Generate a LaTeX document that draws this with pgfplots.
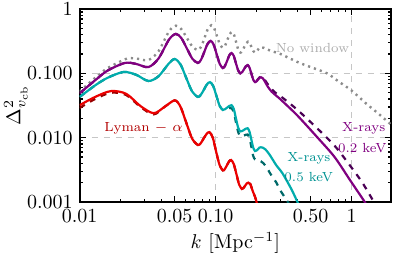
\documentclass[border=0pt]{standalone}
\usepackage{pgfplots}
\pgfplotsset{compat=1.18}
\definecolor{cred}{RGB}{235,0,0}
\definecolor{cdred}{RGB}{150,0,0}
\definecolor{cteal}{RGB}{0,172,172}
\definecolor{cdteal}{RGB}{0,105,105}
\definecolor{cpur}{RGB}{128,0,128}
\definecolor{cdpur}{RGB}{75,0,85}
\definecolor{cgray}{RGB}{140,140,140}
\begin{document}
\begin{tikzpicture}
\useasboundingbox (-39.85pt,-29.5pt) rectangle (159.65pt,101pt);
\begin{axis}[
  at={(0,0)}, anchor=south west,
  scale only axis, width=155.65pt, height=96.5pt,
  xmode=log, ymode=log,
  xmin=0.01, xmax=1.95, ymin=0.001, ymax=1,
  axis line style={line width=1pt},
  every tick/.style={black, line width=0.7pt},
  major tick length=3pt, minor tick length=1.6pt,
  tick align=inside, xtick pos=both, ytick pos=both,
  xtick={0.01,0.1,1}, xticklabels={0.01,0.10,1},
  extra x ticks={0.05,0.5}, extra x tick labels={0.05,0.50},
  extra x tick style={grid=none},
  minor xtick={0.02,0.03,0.04,0.06,0.07,0.08,0.09,0.2,0.3,0.4,0.6,0.7,0.8,0.9},
  ytick={0.001,0.01,0.1,1}, yticklabels={0.001,0.010,0.100,1},
  minor ytick={0.002,0.003,0.004,0.005,0.006,0.007,0.008,0.009,0.02,0.03,0.04,0.05,0.06,0.07,0.08,0.09,0.2,0.3,0.4,0.5,0.6,0.7,0.8,0.9},
  xmajorgrids, ymajorgrids,
  major grid style={dashed, gray!45, line width=0.4pt},
  xlabel={$k$ [Mpc$^{-1}$]},
  ylabel={$\Delta^2_{v_{\rm cb}}$},
  xlabel style={yshift=2pt},
  ylabel style={at={(axis description cs:-0.205,0.5)}, anchor=center},
  every axis plot/.append style={line width=1.1pt, smooth, tension=0.5},
]
% No window
\addplot[cgray, dotted, line width=1.2pt] coordinates {
(0.01,0.052)(0.013,0.085)(0.016,0.12)(0.0215,0.165)(0.024,0.172)(0.028,0.166)(0.032,0.16)(0.038,0.22)(0.0454,0.45)(0.051,0.55)
(0.056,0.484)(0.0614,0.356)(0.0674,0.261)(0.074,0.23)(0.0784,0.262)(0.083,0.359)(0.0878,0.492)(0.093,0.56)
(0.0977,0.498)(0.1025,0.374)(0.1076,0.281)(0.113,0.25)(0.1175,0.271)(0.1221,0.332)(0.127,0.405)(0.132,0.44)
(0.1367,0.395)(0.1416,0.304)(0.1467,0.234)(0.152,0.21)(0.157,0.222)(0.1622,0.255)(0.1675,0.293)(0.173,0.31)
(0.1783,0.293)(0.1837,0.255)(0.1893,0.222)(0.195,0.21)(0.1996,0.216)(0.2043,0.231)(0.209,0.248)(0.214,0.255)
(0.225,0.25)(0.24,0.235)(0.27,0.215)(0.3,0.2)(0.4,0.15)(0.5,0.125)(0.66,0.1)(0.8,0.075)(1.0,0.054)(1.3,0.033)(1.6,0.023)(1.95,0.016)};
% X-rays 0.2 keV dashed
\addplot[cdpur, dashed] coordinates {
(0.01,0.049)(0.013,0.078)(0.016,0.11)(0.0215,0.145)(0.026,0.14)(0.032,0.125)(0.038,0.17)(0.0454,0.335)(0.051,0.41)
(0.056,0.352)(0.0614,0.244)(0.0674,0.169)(0.074,0.145)(0.0781,0.163)(0.0825,0.215)(0.0871,0.285)(0.092,0.32)
(0.0968,0.278)(0.1019,0.197)(0.1073,0.1395)(0.113,0.121)(0.1172,0.131)(0.1217,0.158)(0.1262,0.191)(0.131,0.207)
(0.136,0.186)(0.141,0.144)(0.1465,0.111)(0.152,0.10)(0.1568,0.1044)(0.1617,0.1158)(0.1667,0.1284)(0.172,0.134)
(0.1775,0.1226)(0.1832,0.0989)(0.189,0.0805)(0.195,0.075)(0.1998,0.076)(0.2048,0.081)(0.2098,0.086)(0.215,0.089)
(0.222,0.086)(0.232,0.077)(0.245,0.065)(0.26,0.056)(0.272,0.051)(0.314,0.041)(0.4,0.027)(0.558,0.014)(0.75,0.0075)(0.973,0.0037)(1.2,0.002)(1.46,0.001)(1.55,0.0008)};
% X-rays 0.2 keV solid
\addplot[cpur] coordinates {
(0.01,0.049)(0.013,0.078)(0.016,0.11)(0.0215,0.145)(0.026,0.14)(0.032,0.125)(0.038,0.17)(0.0454,0.335)(0.051,0.41)
(0.056,0.352)(0.0614,0.244)(0.0674,0.169)(0.074,0.145)(0.0781,0.163)(0.0825,0.215)(0.0871,0.285)(0.092,0.32)
(0.0968,0.278)(0.1019,0.197)(0.1073,0.1395)(0.113,0.121)(0.1172,0.131)(0.1217,0.158)(0.1262,0.191)(0.131,0.207)
(0.136,0.186)(0.141,0.144)(0.1465,0.111)(0.152,0.10)(0.1568,0.1044)(0.1617,0.1158)(0.1667,0.1284)(0.172,0.134)
(0.1775,0.1226)(0.1832,0.0989)(0.189,0.0798)(0.195,0.073)(0.1998,0.0749)(0.2048,0.0797)(0.2098,0.0848)(0.215,0.087)
(0.222,0.084)(0.23,0.075)(0.242,0.062)(0.258,0.052)(0.272,0.047)(0.29,0.042)(0.314,0.036)(0.4,0.022)(0.558,0.0102)(0.75,0.005)(0.973,0.0022)(1.25,0.001)(1.32,0.0008)};
% X-rays 0.5 keV dashed
\addplot[cdteal, dashed] coordinates {
(0.01,0.043)(0.013,0.065)(0.016,0.085)(0.021,0.105)(0.026,0.095)(0.032,0.076)(0.038,0.09)(0.045,0.14)(0.050,0.167)
(0.0552,0.137)(0.0608,0.0847)(0.0671,0.0524)(0.074,0.043)(0.0779,0.0465)(0.0821,0.056)(0.0864,0.0676)(0.091,0.073)
(0.0961,0.0631)(0.1014,0.0444)(0.1071,0.0312)(0.113,0.027)(0.1172,0.0277)(0.1217,0.0288)(0.1262,0.029)(0.131,0.0285)
(0.136,0.025)(0.141,0.0175)(0.1465,0.0122)(0.152,0.0105)(0.1568,0.0106)(0.1617,0.0108)(0.1667,0.0111)(0.172,0.0112)
(0.1775,0.0098)(0.1832,0.0072)(0.189,0.0052)(0.195,0.0046)(0.2048,0.0045)(0.215,0.0043)(0.225,0.004)(0.24,0.0033)(0.26,0.0025)(0.28,0.002)(0.3,0.0015)(0.34,0.001)(0.36,0.0008)};
% X-rays 0.5 keV solid
\addplot[cteal] coordinates {
(0.01,0.043)(0.013,0.065)(0.016,0.085)(0.021,0.105)(0.026,0.095)(0.032,0.076)(0.038,0.09)(0.045,0.14)(0.050,0.167)
(0.0552,0.137)(0.0608,0.0847)(0.0671,0.0524)(0.074,0.043)(0.0779,0.0465)(0.0821,0.056)(0.0864,0.0676)(0.091,0.073)
(0.0961,0.0631)(0.1014,0.0444)(0.1071,0.0312)(0.113,0.027)(0.1172,0.0277)(0.1217,0.0294)(0.1262,0.0312)(0.131,0.032)
(0.136,0.0279)(0.141,0.02)(0.1465,0.0143)(0.152,0.0125)(0.1568,0.0127)(0.1617,0.0132)(0.1667,0.0138)(0.172,0.014)
(0.1775,0.0124)(0.1832,0.0093)(0.189,0.007)(0.195,0.0062)(0.1998,0.0063)(0.2048,0.0066)(0.2098,0.007)(0.215,0.0071)
(0.222,0.007)(0.232,0.0066)(0.25,0.0054)(0.28,0.0037)(0.31,0.0028)(0.36,0.0016)(0.40,0.001)(0.42,0.0008)};
% Lyman alpha dashed
\addplot[cdred, dashed] coordinates {
(0.01,0.029)(0.013,0.040)(0.017,0.050)(0.022,0.046)(0.028,0.030)(0.035,0.023)(0.042,0.030)(0.050,0.038)
(0.0552,0.0301)(0.0608,0.0171)(0.0671,0.0097)(0.074,0.0077)(0.0777,0.0082)(0.0816,0.0097)(0.0857,0.0114)(0.09,0.0122)
(0.0953,0.0100)(0.1008,0.0061)(0.1067,0.0038)(0.113,0.0031)(0.117,0.00327)(0.1212,0.00374)(0.1255,0.00426)(0.13,0.0045)
(0.136,0.00387)(0.1424,0.00268)(0.149,0.00186)(0.156,0.0016)(0.1603,0.00165)(0.1648,0.00179)(0.1693,0.00194)(0.174,0.002)
(0.18,0.0019)(0.187,0.0015)(0.195,0.0012)(0.20,0.001)(0.205,0.0008)};
% Lyman alpha solid
\addplot[cred] coordinates {
(0.01,0.032)(0.013,0.043)(0.017,0.053)(0.022,0.048)(0.028,0.031)(0.035,0.024)(0.042,0.030)(0.050,0.038)
(0.0552,0.0301)(0.0608,0.0171)(0.0671,0.0097)(0.074,0.0077)(0.0777,0.0082)(0.0816,0.0097)(0.0857,0.0114)(0.09,0.0122)
(0.0953,0.0100)(0.1008,0.0061)(0.1067,0.0038)(0.113,0.0031)(0.117,0.00327)(0.1212,0.00374)(0.1255,0.00426)(0.13,0.0045)
(0.136,0.00387)(0.1424,0.00268)(0.149,0.00186)(0.156,0.0016)(0.1603,0.00165)(0.1648,0.00179)(0.1693,0.00194)(0.174,0.002)
(0.18,0.0019)(0.187,0.0015)(0.195,0.0012)(0.20,0.001)(0.205,0.0008)};
\node[text=red!70!black, font=\fontsize{6.6}{8}\selectfont] at (axis cs:0.0295,0.014) {Lyman $-\ \alpha$};
\node[text=gray!65, font=\fontsize{6.6}{8}\selectfont] at (axis cs:0.515,0.247) {No window};
\node[text=cpur, font=\fontsize{6.6}{8}\selectfont] at (axis cs:1.23,0.014) {X-rays};
\node[text=cpur, font=\fontsize{6.6}{8}\selectfont] at (axis cs:1.2,0.0068) {0.2 keV};
\node[text=cteal!85!black, font=\fontsize{6.6}{8}\selectfont] at (axis cs:0.485,0.00476) {X-rays};
\node[text=cteal!85!black, font=\fontsize{6.6}{8}\selectfont] at (axis cs:0.484,0.00247) {0.5 keV};
\end{axis}
\end{tikzpicture}
\end{document}
